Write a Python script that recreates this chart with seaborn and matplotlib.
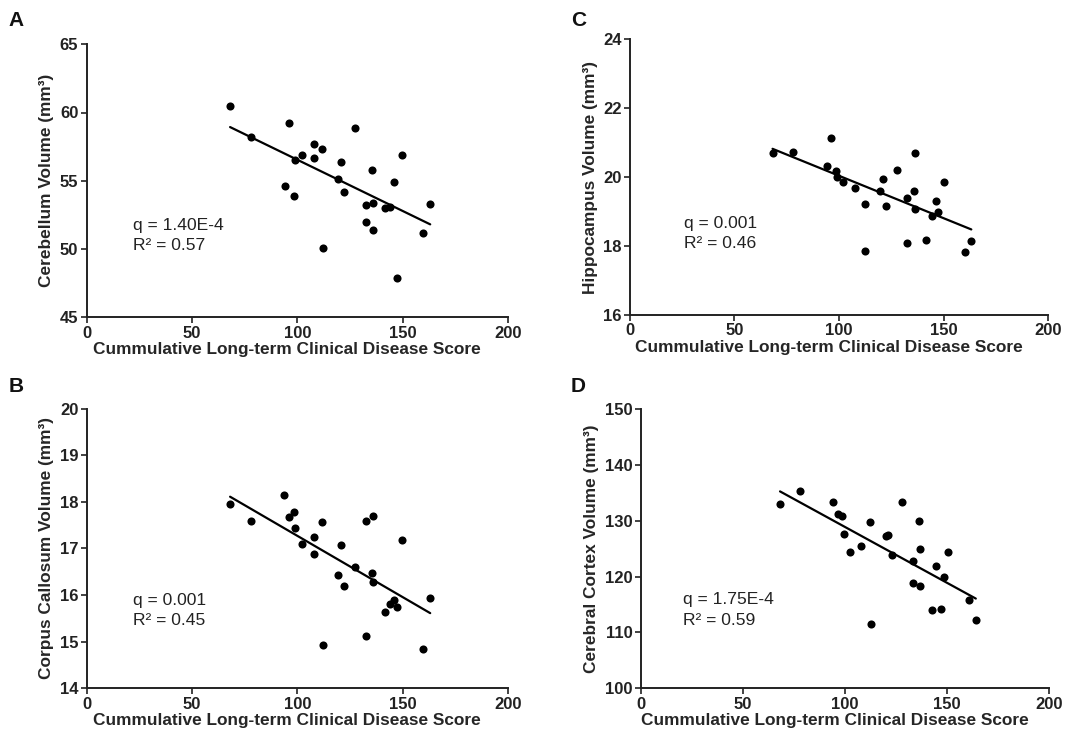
import numpy as np
import pandas as pd
import matplotlib
matplotlib.use("Agg")
import matplotlib.pyplot as plt
import seaborn as sns

# ---- data ----
score_A = [68.1, 78.0, 96.2, 127.5, 107.8, 111.9, 102.1, 107.8, 99.1, 120.9, 149.9, 135.5, 119.5,
           146.1, 94.1, 122.4, 98.5, 132.5, 135.9, 141.6, 144.1, 163.1, 132.5, 135.9, 159.9, 112.3, 147.4]
cerebellum = [60.5, 58.2, 59.2, 58.9, 57.7, 57.35, 56.9, 56.66, 56.5, 56.4, 56.9, 55.8, 55.15,
              54.9, 54.6, 54.2, 53.9, 53.2, 53.35, 53.0, 53.1, 53.3, 52.0, 51.4, 51.15, 50.1, 47.9]

score_B = [68.1, 93.9, 78.0, 96.2, 98.5, 99.1, 111.9, 132.5, 135.9, 102.1, 107.8, 107.8, 120.9,
           149.9, 127.3, 119.5, 122.4, 135.5, 135.9, 163.1, 146.1, 143.9, 147.4, 141.6, 132.5, 112.3, 159.9]
corpus_callosum = [17.95, 18.15, 17.59, 17.67, 17.77, 17.43, 17.57, 17.59, 17.69, 17.10, 17.25, 16.88, 17.07,
                   17.17, 16.61, 16.42, 16.20, 16.48, 16.29, 15.94, 15.90, 15.80, 15.75, 15.63, 15.13, 14.92, 14.84]

score_C = [68.2, 78.1, 96.3, 94.1, 98.6, 99.2, 102.0, 107.8, 112.2, 112.5, 119.5, 121.1, 122.5,
           127.6, 136.2, 135.7, 132.5, 136.2, 132.7, 141.8, 146.3, 147.6, 144.3, 150.1, 163.3, 160.3]
hippocampus = [20.69, 20.72, 21.12, 20.32, 20.17, 20.01, 19.86, 19.68, 19.22, 17.86, 19.59, 19.93, 19.16,
               20.19, 20.69, 19.59, 19.40, 19.06, 18.10, 18.17, 19.30, 18.99, 18.86, 19.86, 18.15, 17.82]

score_D = [68.3, 78.3, 94.3, 96.9, 98.9, 99.5, 102.5, 108.0, 112.4, 112.7, 120.2, 121.4, 123.2,
           128.1, 133.2, 133.2, 136.3, 136.8, 136.8, 142.5, 147.1, 144.8, 148.4, 150.8, 160.9, 164.2]
cortex = [133.0, 135.4, 133.4, 131.2, 130.9, 127.7, 124.4, 125.5, 129.75, 111.6, 127.3, 127.5, 123.8,
          133.3, 122.8, 118.9, 130.0, 125.0, 118.3, 114.0, 114.2, 121.9, 119.9, 124.4, 115.8, 112.2]

x_label = "Cummulative Long-term Clinical Disease Score"
x_ticks = [0, 50, 100, 150, 200]

sns.set_theme(style="ticks")
plt.rcParams['font.family'] = ['Liberation Sans', 'DejaVu Sans']

fig = plt.figure(figsize=(10.83, 7.5), dpi=100)

panels = [
    ("A", score_A, cerebellum, "Cerebellum Volume (mm³)", (45, 65), [45, 50, 55, 60, 65],
     [0.080, 0.577, 0.389, 0.364], "q = 1.40E-4\nR² = 0.57", (22, 51.0)),
    ("B", score_B, corpus_callosum, "Corpus Callosum Volume (mm³)", (14, 20), [14, 15, 16, 17, 18, 19, 20],
     [0.080, 0.0823, 0.389, 0.373], "q = 0.001\nR² = 0.45", (22, 15.67)),
    ("C", score_C, hippocampus, "Hippocampus Volume (mm³)", (16, 24), [16, 18, 20, 22, 24],
     [0.5817, 0.58, 0.386, 0.368], "q = 0.001\nR² = 0.46", (25.7, 18.36)),
    ("D", score_D, cortex, "Cerebral Cortex Volume (mm³)", (100, 150), [100, 110, 120, 130, 140, 150],
     [0.5915, 0.0823, 0.377, 0.372], "q = 1.75E-4\nR² = 0.59", (20.6, 114.0)),
]

letter_pos = {"A": (0.008, 0.965), "B": (0.008, 0.478), "C": (0.527, 0.965), "D": (0.527, 0.478)}

for letter, xs, ys, ylab, ylim, yticks, rect, stats, spos in panels:
    ax = fig.add_axes(rect)
    df = pd.DataFrame({"score": xs, "vol": ys})
    sns.regplot(data=df, x="score", y="vol", ax=ax, ci=None, truncate=True,
                scatter_kws=dict(s=34, color="black", linewidths=0, alpha=1),
                line_kws=dict(color="black", lw=1.6))
    ax.set_xlim(0, 200)
    ax.set_ylim(*ylim)
    ax.set_xticks(x_ticks)
    ax.set_yticks(yticks)
    ax.set_xlabel(x_label, fontsize=12.4, fontweight="bold")
    height_px = rect[3] * 750
    ax.xaxis.set_label_coords(0.475, -25.0 / height_px)
    ax.set_ylabel(ylab, fontsize=12.4, fontweight="bold", labelpad=4)
    for lab in ax.get_xticklabels() + ax.get_yticklabels():
        lab.set_fontweight("bold")
        lab.set_fontsize(12)
    sns.despine(ax=ax)
    for sp in ("left", "bottom"):
        ax.spines[sp].set_linewidth(1.4)
        ax.spines[sp].set_color("#222222")
    ax.tick_params(axis="both", length=4, width=1.2, colors="#222222", labelcolor="#222222", pad=2)
    ax.text(spos[0], spos[1], stats, fontsize=12.6, color="#222222", va="center", ha="left",
            linespacing=1.45)
    fig.text(letter_pos[letter][0], letter_pos[letter][1], letter, fontsize=15,
             fontweight="bold", color="#111111")

fig.savefig("out.png", dpi=100, facecolor="white")
